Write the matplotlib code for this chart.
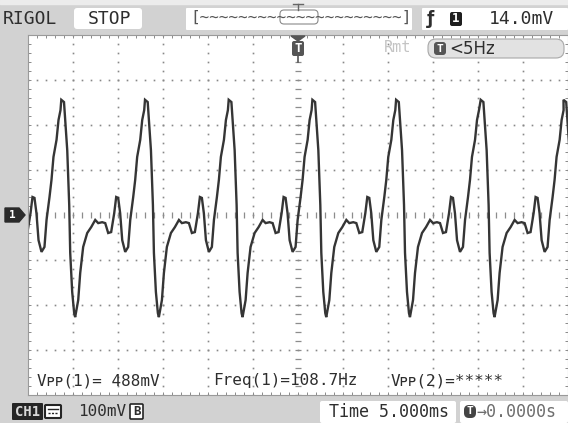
import numpy as np
import matplotlib
matplotlib.use("Agg")
import matplotlib.pyplot as plt
from matplotlib.patches import FancyBboxPatch, Rectangle, Polygon

# one cycle of the CH1 trace (time from peak in ms, level in mV)
cycle_ms = [-0.1, 0.2, 0.33, 0.56, 0.78, 0.89, 1.11, 1.33, 1.44, 1.78, 2.0, 2.33,
            2.78, 3.22, 3.67, 4.0, 4.44, 4.78, 5.11, 5.44, 5.78, 6.0, 6.22, 6.44,
            6.67, 7.0, 7.33, 7.56, 7.89, 8.11, 8.33, 8.67, 8.89, 9.11]
cycle_mv = [256, 251, 211, 144, 22, -84, -171, -218, -227, -189, -129, -71,
            -40, -27, -11, -18, -16, -18, -40, -38, 4, 40, 38, 4,
            -56, -82, -71, -11, 40, 78, 129, 167, 211, 233]
# times of each peak on screen (ms, trigger = 0)
peak_ms = [-35.5, -26.2, -16.9, -7.6, 1.7, 11.0, 20.4, 29.6]

t = np.concatenate([np.array(cycle_ms) + p for p in peak_ms])
v = np.concatenate([cycle_mv for p in peak_ms])

W, H = 568, 423
BG = "#d2d2d2"
INK = "#2e2e2e"
MONO = "DejaVu Sans Mono"
MONO_FB = ["DejaVu Sans Mono", "DejaVu Sans", "Noto Sans"]

fig = plt.figure(figsize=(W / 100, H / 100), dpi=100)
fig.patch.set_facecolor(BG)

# background / chrome layer
bg = fig.add_axes([0, 0, 1, 1], zorder=0)
bg.set_xlim(0, W)
bg.set_ylim(H, 0)
bg.axis("off")
bg.add_patch(Rectangle((0, 0), W, 4, color="#ececec"))

# scope grid axes (12 x 8 divisions, 5 ms/div, 100 mV/div)
ax = fig.add_axes([28 / W, (H - 395) / H, 540 / W, 360 / H], zorder=1)
ax.set_facecolor("white")
ax.set_xlim(-30, 30)
ax.set_ylim(-400, 400)
for s in ax.spines.values():
    s.set_color("#9a9a9a")
    s.set_linewidth(0.8)
ax.set_xticks(np.arange(-30, 31, 1))
ax.set_yticks(np.arange(-400, 401, 20))
ax.tick_params(direction="in", length=2.5, width=0.7, color="#8a8a8a",
               top=True, right=True, labelbottom=False, labelleft=False)

dot = dict(ls="none", marker="s", ms=1.2, color="#888888", mec="none")
ys = np.arange(-400, 401, 20)
xs = np.arange(-30, 31, 1)
for gx in np.arange(-25, 30, 5):
    if gx != 0:
        ax.plot(np.full(ys.size, gx), ys, **dot)
for gy in np.arange(-300, 400, 100):
    if gy != 0:
        ax.plot(xs, np.full(xs.size, gy), **dot)
ax.plot(np.zeros(ys.size), ys, ls="none", marker="_", ms=4, mew=0.9, color="#8c8c8c")
ax.plot(xs, np.zeros(xs.size), ls="none", marker="|", ms=5, mew=0.9, color="#8c8c8c")

ax.plot(t, v, color="#353535", lw=1.7, solid_joinstyle="miter")

# foreground chrome layer
fg = fig.add_axes([0, 0, 1, 1], zorder=2)
fg.set_xlim(0, W)
fg.set_ylim(H, 0)
fg.axis("off")
fg.patch.set_alpha(0)


def box(a, x0, y0, w, h, fc="white", ec="none", r=3, lw=0.8):
    a.add_patch(FancyBboxPatch((x0, y0), w, h, boxstyle=f"round,pad=0,rounding_size={r}",
                               fc=fc, ec=ec, lw=lw))


# top bar
fg.text(3, 19, "RIGOL", family=MONO, fontsize=13, color=INK, va="center")
box(fg, 74, 8, 68, 21)
fg.text(88, 19, "STOP", family=MONO, fontsize=13, color=INK, va="center")
box(fg, 186, 8, 226, 22, r=1)
fg.text(190, 17, "[" + "~" * 21 + "]", family=MONO, fontsize=11.5, color="#555555",
        va="center", ha="left")
box(fg, 280, 10, 38, 14, fc="none", ec="#8a8a8a", r=4)
fg.plot([293, 303], [4, 4], color="#666666", lw=1)
fg.plot([298, 298], [4, 10], color="#666666", lw=1)
box(fg, 422, 8, 146, 22, r=1)
fg.text(431, 19, "ƒ", fontsize=12, color=INK, va="center", ha="center", fontweight="bold")
box(fg, 450, 12, 12, 14, fc="#1e1e1e", r=2)
fg.text(456, 19, "1", family=MONO, fontsize=9, color="white", va="center", ha="center",
        fontweight="bold")
fg.text(489, 19, "14.0mV", family=MONO, fontsize=13, color=INK, va="center")

# trigger position marker
fg.add_patch(Polygon([[291, 36], [305, 36], [298, 41]], closed=True, color="#555555"))
box(fg, 292, 41, 12, 15, fc="#555555", r=2)
fg.plot([298, 298], [56, 62], color="#555555", lw=1.2)
fg.text(298, 48.5, "T", family=MONO, fontsize=9, color="white", va="center", ha="center",
        fontweight="bold")

# Rmt / trigger freq
fg.text(384, 48, "Rmt", family=MONO, fontsize=11, color="#c4c4c4", va="center")
box(fg, 428, 39, 136, 19, fc="#e2e2e2", ec="#a8a8a8", r=8)
box(fg, 434, 42, 12, 13, fc="#555555", r=3)
fg.text(440, 48.5, "T", family=MONO, fontsize=8, color="white", va="center", ha="center",
        fontweight="bold")
fg.text(449, 48.5, "<5Hz", fontsize=12, color=INK, va="center")

# channel 1 level marker
fg.add_patch(Polygon([[5, 208], [19, 208], [25, 215], [19, 222], [5, 222]], closed=True,
                     color="#2a2a2a"))
fg.text(12, 215, "1", family=MONO, fontsize=8, color="white", va="center", ha="center",
        fontweight="bold")

# measurements
fg.text(37, 381, "Vᴘᴘ(1)= 488mV", family=MONO_FB, fontsize=11.5, color=INK, va="center")
fg.text(213, 381, "Freq(1)=108.7Hz", family=MONO, fontsize=11.5, color=INK, va="center")
fg.text(391, 381, "Vᴘᴘ(2)=*****", family=MONO_FB, fontsize=11.5, color=INK, va="center")

# bottom bar
box(fg, 12, 403, 31, 17, fc="#252525", r=1)
fg.text(27.5, 411.5, "CH1", family=MONO, fontsize=10, color="#d8d8d8", va="center",
        ha="center", fontweight="bold")
box(fg, 45, 405, 16, 13, fc="white", ec="#252525", r=1, lw=1.5)
fg.plot([48, 58], [409, 409], color="#252525", lw=1)
fg.plot([48, 58], [413, 413], color="#252525", lw=1, ls=(0, (1.5, 1)))
fg.text(78, 411.5, "100mV", family=MONO, fontsize=11.5, color=INK, va="center")
box(fg, 130, 404, 13, 15, fc="white", ec="#252525", r=1, lw=1.2)
fg.text(136.5, 411.5, "B", family=MONO, fontsize=9, color=INK, va="center", ha="center",
        fontweight="bold")
box(fg, 320, 401, 136, 22, r=2)
fg.text(329, 412, "Time 5.000ms", family=MONO, fontsize=12, color=INK, va="center")
box(fg, 460, 401, 108, 22, r=2)
box(fg, 464, 405, 12, 13, fc="#444444", r=5)
fg.text(470, 411.5, "T", family=MONO, fontsize=8, color="white", va="center", ha="center",
        fontweight="bold")
fg.text(476, 412, "→0.0000s", family=MONO, fontsize=12, color="#6e6e6e", va="center")

fig.savefig("out.png", dpi=100, facecolor=fig.get_facecolor())
